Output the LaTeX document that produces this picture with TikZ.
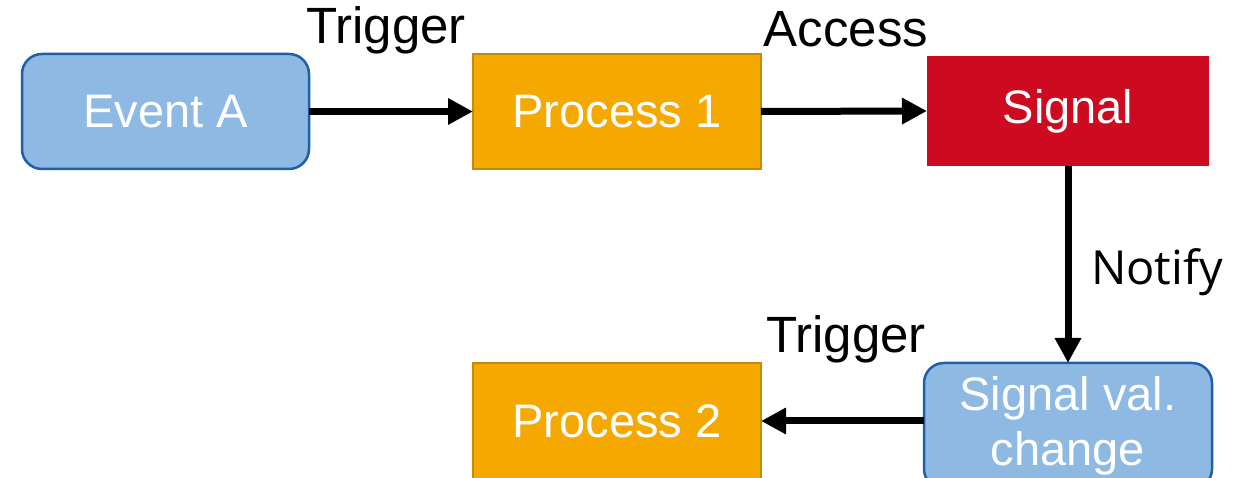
\documentclass[tikz,border=0pt]{standalone}
\usepackage{fontspec}
\setmainfont{Liberation Sans}
\newfontfamily\notefont{Open Sans}
\usetikzlibrary{arrows.meta}
\definecolor{evblue}{HTML}{8EB9E3}
\definecolor{evedge}{HTML}{1F5FA8}
\definecolor{procfill}{HTML}{F5A800}
\definecolor{procedge}{HTML}{C48A0A}
\definecolor{sigred}{HTML}{CE0A21}

\begin{document}
\begin{tikzpicture}[x=1pt,y=1pt,
  box/.style={minimum width=288pt, minimum height=115pt, inner sep=0pt, outer sep=0pt,
              text=white, font=\fontsize{47}{55}\selectfont, align=center},
  eventbox/.style={box, rounded corners=20pt, fill=evblue, draw=evedge, line width=2.5pt},
  procbox/.style={box, fill=procfill, draw=procedge, line width=1.5pt},
  sigbox/.style={box, fill=sigred, minimum width=282pt, minimum height=110pt},
  flow/.style={line width=7pt, -{Triangle[length=25pt,width=25pt]}},
  lbl/.style={font=\fontsize{51}{60}\selectfont, inner sep=0pt, anchor=base}
]
\useasboundingbox (0,0) rectangle (1243,478);
\clip (0,0) rectangle (1243,478);

% boxes
\node[eventbox, minimum width=287pt] (evA) at (165.5,366.5) {Event A};
\node[procbox] (p1) at (617,366.5) {Process 1};
\node[sigbox] (sig) at (1068,367) {Signal};
\node[procbox, minimum height=116pt] (p2) at (617,57) {Process 2};
\node[eventbox, minimum height=126pt] (svc) at (1068,52) {Signal val.\\change};

% connectors
\draw[flow] (evA.east) -- (p1.west);
\draw[flow] (p1.east) -- (sig.west);
\draw[flow] (sig.south) -- (svc.north);
\draw[flow] (svc.west |- p2.east) -- (p2.east);

% labels
\node[lbl] (t1) at (386,434) {Trigger};
\node[lbl] (acc) at (846,431) {Access};
\node[lbl, font=\notefont\fontsize{47}{56}\selectfont] (nt) at (1157,193) {Notify};
\node[lbl] (t2) at (846,125) {Trigger};
\end{tikzpicture}
\end{document}
